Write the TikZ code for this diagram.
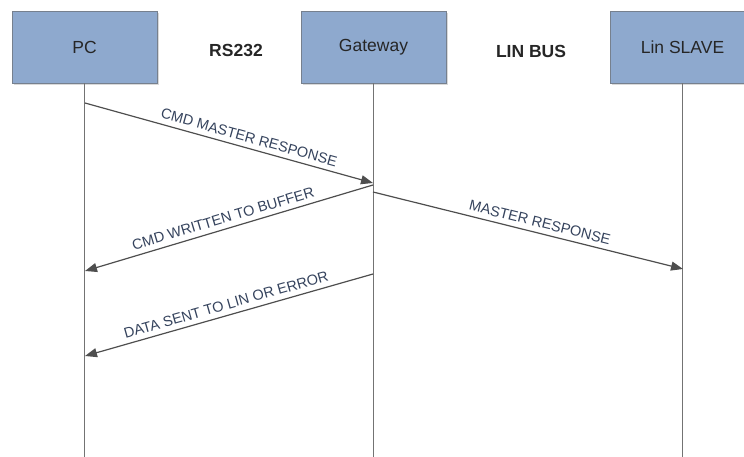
\documentclass[tikz,border=0pt]{standalone}
\usepackage{fontspec}
\setmainfont{Liberation Sans}
\usetikzlibrary{arrows.meta,shadows}
\definecolor{boxfill}{RGB}{142,169,206}
\definecolor{boxline}{RGB}{118,128,142}
\definecolor{msgtext}{RGB}{52,66,92}
\definecolor{lifeline}{RGB}{115,115,115}
\definecolor{msgline}{RGB}{78,78,78}
\begin{document}
\begin{tikzpicture}[x=1pt,y=-1pt,>={Triangle[length=12pt,width=9pt]},
		actor/.style={draw=boxline,fill=boxfill,minimum width=145pt,minimum height=72pt,
			inner sep=0pt,text=black!85,font=\fontsize{17.5}{20}\selectfont,
			drop shadow={shadow xshift=2pt,shadow yshift=-2pt,opacity=0.3}},
		bus/.style={font=\bfseries\fontsize{17.5}{20}\selectfont,text=black!85},
		life/.style={draw=lifeline,line width=1.6pt},
		msg/.style={draw=msgline,line width=1.2pt,->},
		msglabel/.style={sloped,above=4pt,font=\fontsize{14.5}{16}\selectfont,text=msgtext,inner sep=1pt}]
	\useasboundingbox (0,0) rectangle (744,457);
	\clip (0,0) rectangle (744,457);
	% actors
	\node[actor] (pc) at (84.5,47) {PC};
	\node[actor] (gw) at (373.5,47) {Gateway};
	\node[actor] (slave) at (682.5,47) {Lin SLAVE};
	\node[bus] (rs) at (236,50) {RS232};
	\node[bus] (lin) at (531,51) {LIN BUS};
	% lifelines
	\coordinate (pcend) at (85,457);
	\coordinate (gwend) at (374,457);
	\coordinate (slaveend) at (684,457);
	\draw[life] (pc.south) -- (pc.south |- pcend);
	\draw[life] (gw.south) -- (gw.south |- gwend);
	\draw[life] (slave.south) -- (slave.south |- slaveend);
	% messages
	\coordinate (m1a) at (85,103);   \coordinate (m1b) at (373,183);
	\coordinate (m2a) at (373,185);  \coordinate (m2b) at (85,271);
	\coordinate (m3a) at (373,192);  \coordinate (m3b) at (683,269);
	\coordinate (m4a) at (373,274);  \coordinate (m4b) at (85,356);
	\draw[msg] (m1a) -- node[msglabel,pos=0.56]{CMD MASTER RESPONSE} (m1b);
	\draw[msg] (m2a) -- node[msglabel,pos=0.51]{CMD WRITTEN TO BUFFER} (m2b);
	\draw[msg] (m3a) -- node[msglabel,pos=0.53]{MASTER RESPONSE} (m3b);
	\draw[msg] (m4a) -- node[msglabel,pos=0.5]{DATA SENT TO LIN OR ERROR} (m4b);
\end{tikzpicture}
\end{document}
